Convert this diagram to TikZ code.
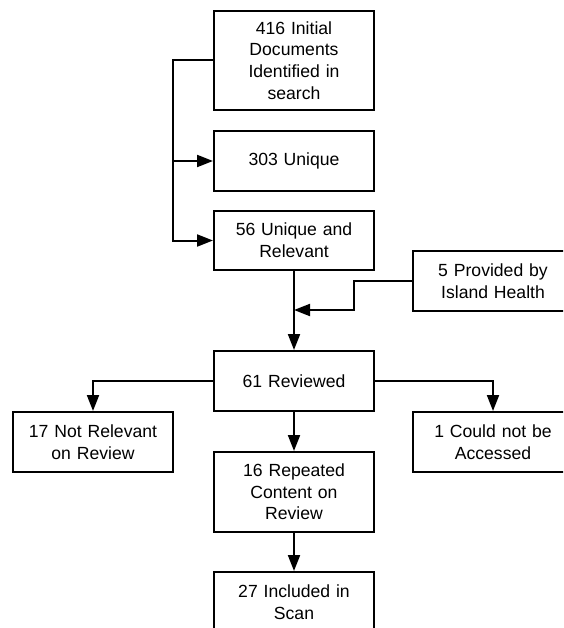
\documentclass[tikz,border=0pt]{standalone}
\usepackage{fontspec}
\setmainfont{Liberation Sans}
\usetikzlibrary{arrows.meta,positioning}

\begin{document}
\begin{tikzpicture}[x=1pt,y=-1pt,>={Triangle[length=16pt,width=12pt]},
  box/.style={draw,line width=2pt,rectangle,minimum width=160pt,minimum height=60pt,
    inner sep=0pt,text width=150pt,align=center,font=\fontsize{17.6}{21.6}\selectfont},
  link/.style={line width=2pt}]
  \useasboundingbox (0,0) rectangle (563,628);
  \clip (0,0) rectangle (563,628);

  \node[box,minimum height=99pt] (init) at (294,60.5) {416 Initial\\Documents\\Identified in\\search};
  \node[box] (uniq) at (294,161) {303 Unique};
  \node[box,minimum height=59pt] (rel) at (294,240.5) {56 Unique and\\Relevant};
  \node[box] (prov) at (493,281) {5 Provided by\\Island Health};
  \node[box] (rev) at (294,381) {61 Reviewed};
  \node[box] (notrel) at (93,442) {17 Not Relevant\\on Review};
  \node[box] (noacc) at (493,442) {1 Could not be\\Accessed};
  \node[box,minimum height=80pt] (rep) at (294,492) {16 Repeated\\Content on\\Review};
  \node[box] (incl) at (294,602) {27 Included in\\Scan};

  \coordinate (spine) at (173,240.5);
  \coordinate (jog) at (354,310);
  \coordinate (join) at (294,310);

  \draw[link,->] (init.west) -| (spine) -- (rel.west);
  \draw[link,->] (spine |- uniq.west) -- (uniq.west);
  \draw[link,->] (rel) -- (rev);
  \draw[link,->] (prov.west) -| (jog) -- (join);
  \draw[link,->] (rev.west) -| (notrel.north);
  \draw[link,->] (rev.east) -| (noacc.north);
  \draw[link,->] (rev) -- (rep);
  \draw[link,->] (rep) -- (incl);
\end{tikzpicture}
\end{document}
